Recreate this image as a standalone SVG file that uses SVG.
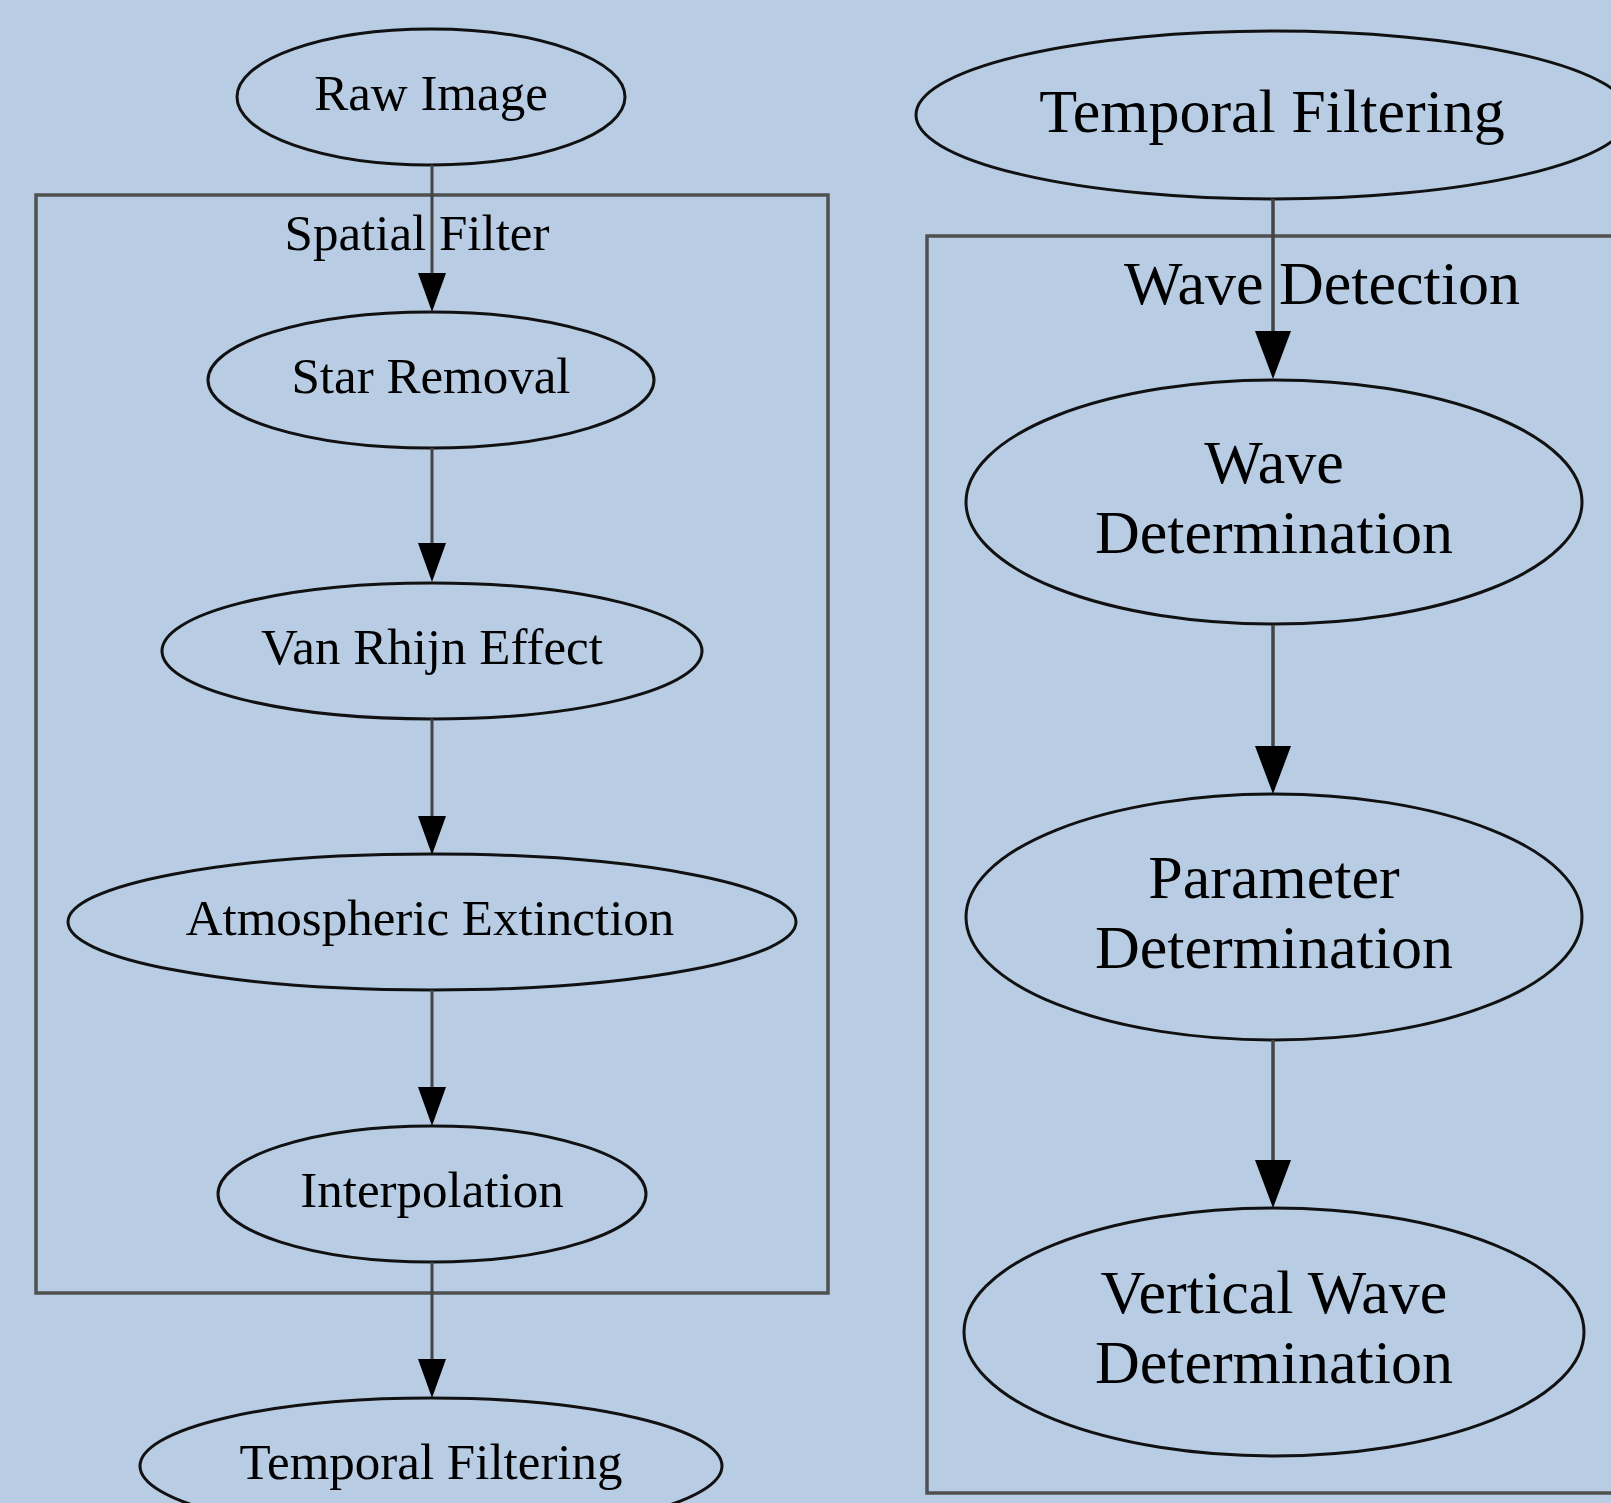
<svg xmlns="http://www.w3.org/2000/svg" width="1611" height="1503" viewBox="0 0 1611 1503">
<defs>
<style>
.bg{fill:#b8cce4}
.cluster{fill:none;stroke:#505050;stroke-width:3.5}
.node{fill:none;stroke:#111;stroke-width:3}
.edge{fill:none;stroke:#444;stroke-width:3}
.edgeR{fill:none;stroke:#444;stroke-width:3.5}
.t{font-family:"Liberation Serif","Times New Roman",serif;fill:#000;text-anchor:middle}
.sL{font-size:51px}
.sR{font-size:62px}
</style>
<marker id="arrS" markerUnits="userSpaceOnUse" markerWidth="40" markerHeight="28" refX="0" refY="14" orient="auto" viewBox="0 0 40 28">
<path d="M0,0 L39,14 L0,28 Z" fill="#000"/>
</marker>
<marker id="arrL" markerUnits="userSpaceOnUse" markerWidth="49" markerHeight="36" refX="0" refY="18" orient="auto" viewBox="0 0 49 36">
<path d="M0,0 L48,18 L0,36 Z" fill="#000"/>
</marker>
</defs>
<rect class="bg" x="0" y="0" width="1611" height="1503"/>

<g id="cluster_spatial">
<rect class="cluster" x="36" y="195" width="792" height="1098"/>
<text class="t sL" x="417" y="250">Spatial Filter</text>
</g>
<g id="cluster_wave">
<rect class="cluster" x="927" y="236" width="800" height="1257"/>
<text class="t sR" x="1322" y="304">Wave Detection</text>
</g>

<g id="raw_image">
<ellipse class="node" cx="431" cy="97" rx="194" ry="68"/>
<text class="t sL" x="431" y="110">Raw Image</text>
</g>
<g id="star_removal">
<ellipse class="node" cx="431" cy="380" rx="223" ry="68"/>
<text class="t sL" x="431" y="393">Star Removal</text>
</g>
<g id="van_rhijn">
<ellipse class="node" cx="432" cy="651" rx="270" ry="68"/>
<text class="t sL" x="432" y="664">Van Rhijn Effect</text>
</g>
<g id="atmospheric_extinction">
<ellipse class="node" cx="432" cy="922" rx="364" ry="68"/>
<text class="t sL" x="430" y="935">Atmospheric Extinction</text>
</g>
<g id="interpolation">
<ellipse class="node" cx="432" cy="1194" rx="214" ry="68"/>
<text class="t sL" x="432" y="1207">Interpolation</text>
</g>
<g id="temporal_filtering_left">
<ellipse class="node" cx="431" cy="1466" rx="291" ry="68"/>
<text class="t sL" x="431" y="1479">Temporal Filtering</text>
</g>

<g id="temporal_filtering_right">
<ellipse class="node" cx="1273" cy="115" rx="357" ry="84"/>
<text class="t sR" x="1272" y="132">Temporal Filtering</text>
</g>
<g id="wave_determination">
<ellipse class="node" cx="1274" cy="502" rx="308" ry="122"/>
<text class="t sR" x="1274" y="483">Wave</text>
<text class="t sR" x="1274" y="553">Determination</text>
</g>
<g id="parameter_determination">
<ellipse class="node" cx="1274" cy="917" rx="308" ry="123"/>
<text class="t sR" x="1274" y="898">Parameter</text>
<text class="t sR" x="1274" y="968">Determination</text>
</g>
<g id="vertical_wave_determination">
<ellipse class="node" cx="1274" cy="1332" rx="310" ry="124"/>
<text class="t sR" x="1274" y="1313">Vertical Wave</text>
<text class="t sR" x="1274" y="1383">Determination</text>
</g>

<g id="edges">
<line class="edge" x1="432" y1="165" x2="432" y2="273" marker-end="url(#arrS)"/>
<line class="edge" x1="432" y1="448" x2="432" y2="543" marker-end="url(#arrS)"/>
<line class="edge" x1="432" y1="719" x2="432" y2="816" marker-end="url(#arrS)"/>
<line class="edge" x1="432" y1="990" x2="432" y2="1087" marker-end="url(#arrS)"/>
<line class="edge" x1="432" y1="1262" x2="432" y2="1359" marker-end="url(#arrS)"/>
<line class="edgeR" x1="1273" y1="199" x2="1273" y2="331" marker-end="url(#arrL)"/>
<line class="edgeR" x1="1273" y1="625" x2="1273" y2="746" marker-end="url(#arrL)"/>
<line class="edgeR" x1="1273" y1="1040" x2="1273" y2="1160" marker-end="url(#arrL)"/>
</g>
</svg>
